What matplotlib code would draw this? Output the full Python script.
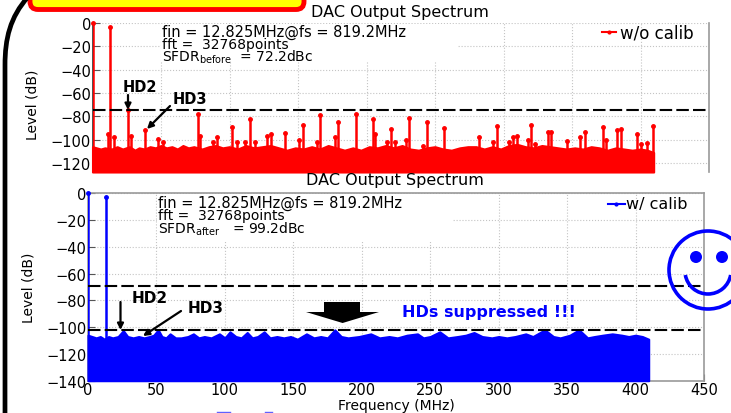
"""DAC output spectrum before and after calibration, with slide decorations."""

import matplotlib
matplotlib.use("Agg")
import matplotlib.pyplot as plt
from matplotlib.patches import Circle, FancyBboxPatch, PathPatch, Polygon, Arc
from matplotlib.path import Path

W, H = 731, 414

# fundamental and spurs (MHz, dB)
before_freq = [0.0, 12.8, 11, 16, 25.6, 28, 38.4, 48, 51.6, 76.9, 78.8, 88, 91, 102, 105.6,
               111, 114.9, 118.5, 127.5, 130, 140.6, 153.8, 151, 166.4, 164, 179.3, 177, 192.2,
               204.9, 206.5, 214.6, 217.8, 221, 230.7, 229, 243.8, 241, 256.7, 282.2, 295, 292,
               306.7, 309.5, 304, 320.4, 318, 323, 332.6, 335, 346.2, 359.4, 356, 372.3, 375,
               382.5, 385.6, 397.8, 400, 405, 409.3]
before_level = [0.0, -3, -95, -98, -74.5, -97, -92, -99, -102, -78, -97, -102, -98, -89, -102,
                -102, -82, -102, -97, -95, -94, -87, -100, -79, -102, -85, -98, -78,
                -82, -95, -102, -91, -102, -81, -100, -85, -105, -90, -98, -88, -102,
                -98, -97, -102, -87.5, -100, -104, -93, -93, -101, -93, -98, -89, -100,
                -92, -91, -95, -104, -103, -88]
before_floor_freq = [0, 3, 6, 9, 14, 18, 22, 27, 31, 34, 38, 42, 46, 50, 54, 58, 62, 66, 70, 74, 80,
                     85, 90, 95, 100, 106, 112, 118, 124, 130, 136, 142, 148, 154, 160, 166, 172,
                     178, 184, 190, 196, 202, 208, 214, 220, 226, 232, 238, 244, 250, 256, 262,
                     268, 274, 280, 286, 292, 298, 304, 310, 316, 322, 328, 334, 340, 346, 352,
                     358, 364, 370, 376, 382, 388, 394, 400, 405, 409.6]
before_floor = [-106, -107, -108, -107, -108, -106, -108, -106, -109, -107, -108, -106, -107,
                -105, -107, -106, -108, -105, -107, -106, -108, -106, -105, -107, -106, -108,
                -105, -107, -106, -105, -107, -109, -107, -108, -106, -108, -105, -107, -109,
                -107, -109, -106, -107, -105, -107, -105, -108, -109, -107, -106, -108, -109,
                -107, -106, -106, -108, -106, -108, -105, -104, -106, -107, -105, -106, -107,
                -108, -107, -108, -106, -107, -109, -107, -108, -109, -108, -109, -111]

after_freq = [0.0, 12.8]
after_level = [0.0, -3]
after_floor_freq = [0, 3, 6, 9, 12, 15, 18, 22, 25.8, 29, 33, 37, 41, 45, 48, 51.3, 54, 57, 60, 64,
                    68, 73, 77, 81, 85, 90, 96, 100, 103.7, 108, 112, 116.3, 120, 124, 128.7, 133,
                    138, 143, 148, 153, 159.6, 165, 170, 175, 180.3, 185, 190, 198, 206.6, 213,
                    220, 226, 233, 240.7, 245, 250, 257, 263, 270, 276, 282, 288, 295, 300, 306,
                    312, 319.8, 325, 333.7, 340, 345, 352, 358.7, 365, 370, 376, 383, 390, 395,
                    400, 405, 409.6]
after_floor = [-106, -107, -108, -107, -109, -107, -108, -107, -102.6, -107, -108, -107, -108,
               -107, -106, -102, -107, -108, -105, -108, -108, -107, -105, -108, -107, -108,
               -105, -108, -103.5, -107, -108, -104, -108, -107, -103.5, -108, -107, -108, -107,
               -109, -105, -108, -107, -108, -102, -107, -108, -107, -105, -108, -107, -108,
               -106, -105, -108, -107, -103.5, -108, -107, -106, -104, -107, -108, -107, -108,
               -107, -105, -107, -102, -107, -108, -106, -102, -108, -107, -106, -105, -106,
               -107, -106, -107, -109]

x_ticks = [0, 50, 100, 150, 200, 250, 300, 350, 400, 450]
before_y_ticks = [0, -20, -40, -60, -80, -100, -120]
after_y_ticks = [0, -20, -40, -60, -80, -100, -120, -140]

sfdr_before = -74.4
sfdr_after_lines = [-69, -102]

RED = "#ff0000"
BLUE = "#0000ff"
GREY = "#9a9a9a"


def add_axes_px(fig, left, top, right, bottom):
    """Axes placed by pixel box, y counted from the top of the image."""
    return fig.add_axes([left / W, 1 - bottom / H, (right - left) / W, (bottom - top) / H])


def draw_spectrum(ax, floor_f, floor_l, spur_f, spur_l, color, ymin, y_ticks):
    ax.fill_between(floor_f, floor_l, ymin, color=color, lw=1.5, zorder=3, clip_on=False)
    ax.vlines(spur_f, ymin, spur_l, color=color, lw=1.8, zorder=3)
    ax.plot(spur_f, spur_l, ".", color=color, ms=5, zorder=4, clip_on=False)
    ax.set_xlim(0, 450)
    ax.set_ylim(ymin, 0)
    ax.set_xticks(x_ticks)
    ax.set_yticks(y_ticks)
    ax.grid(True, color="#c4c4c4", ls=":", lw=0.8)
    ax.set_axisbelow(True)
    ax.tick_params(labelsize=10.5, length=5, width=0.8, color="#555555", direction="in", pad=1)
    for spine in ax.spines.values():
        spine.set_color(GREY)
        spine.set_linewidth(1.2)


fig = plt.figure(figsize=(W / 100, H / 100), dpi=100)

ax1 = add_axes_px(fig, 92.5, 24, 709, 173)
draw_spectrum(ax1, before_floor_freq, before_floor, before_freq, before_level, RED, -127.7, before_y_ticks)
ax1.set_xticklabels([])
ax1.tick_params(axis="x", length=0)
ax1.spines["top"].set_visible(False)
ax1.spines["bottom"].set_visible(False)
ax1.spines["left"].set_color("#333333")
ax1.axhline(sfdr_before, color="black", ls=(0, (6, 2)), lw=1.5, zorder=5)

ax2 = add_axes_px(fig, 88, 194.3, 704, 381.7)
draw_spectrum(ax2, after_floor_freq, after_floor, after_freq, after_level, BLUE, -140, after_y_ticks)
for level in sfdr_after_lines:
    ax2.axhline(level, color="black", ls=(0, (6, 2)), lw=1.5, zorder=5)

# pixel overlay for annotations and the slide artwork
ov = fig.add_axes([0, 0, 1, 1], facecolor="none")
ov.set_xlim(0, W)
ov.set_ylim(H, 0)
ov.axis("off")


def label(x, y, s, **kw):
    kw.setdefault("fontsize", 10)
    kw.setdefault("va", "center")
    return ov.text(x, y, s, **kw)


# white boxes behind the info text hide the grid
ov.add_patch(plt.Rectangle((161, 25), 297, 37, fc="white", ec="none", zorder=1))
ov.add_patch(plt.Rectangle((157, 195), 295, 48, fc="white", ec="none", zorder=1))

label(400, 12, "DAC Output Spectrum", ha="center", fontsize=11.5)
label(395, 181, "DAC Output Spectrum", ha="center", fontsize=11.5)
label(162, 32, "fin = 12.825MHz@fs = 819.2MHz", fontsize=10.5)
label(162, 45, "fft =  32768points", fontsize=10)
label(162, 57, r"SFDR$_{\mathrm{before}}$  = 72.2dBc", fontsize=10)
label(158, 203, "fin = 12.825MHz@fs = 819.2MHz", fontsize=10.5)
label(158, 216, "fft =  32768points", fontsize=10)
label(158, 229, r"SFDR$_{\mathrm{after}}$   = 99.2dBc", fontsize=10)

ov.plot([602, 616], [33, 33], "-", color=RED, lw=1.5, zorder=3)
ov.plot([609], [33], ".", color=RED, ms=4, zorder=3)
label(620, 33, "w/o calib", fontsize=12)
ov.plot([608, 625], [205, 205], "-", color=BLUE, lw=1.5, zorder=3)
ov.plot([616], [205], ".", color=BLUE, ms=4, zorder=3)
label(626, 205, "w/ calib", fontsize=11.5)

label(33, 105, "Level (dB)", rotation=90, ha="center")
label(29, 288, "Level (dB)", rotation=90, ha="center")
label(396, 406, "Frequency (MHz)", ha="center", fontsize=10)

label(123, 87, "HD2", fontweight="bold", fontsize=10.5)
label(173, 100, "HD3", fontweight="bold", fontsize=10.5)
label(132, 299, "HD2", fontweight="bold", fontsize=11)
label(188, 309, "HD3", fontweight="bold", fontsize=11)
label(402, 313, "HDs suppressed !!!", color=BLUE, fontweight="bold", fontsize=11.5)

for start, end in [((128, 96), (128, 111)), ((170, 107), (147, 130)),
                   ((120.5, 303), (120.5, 331)), ((181, 312), (143, 337))]:
    ov.annotate("", xy=end, xytext=start, zorder=6,
                arrowprops=dict(arrowstyle="-|>", color="black", lw=1.6, mutation_scale=9,
                                shrinkA=0, shrinkB=0))

# big "suppressed" arrow
ov.add_patch(Polygon([(324, 303), (360, 303), (360, 313), (379, 313), (342.6, 324), (306, 313), (324, 313)],
                     fc="black", ec="none", zorder=6))

# smiley, runs off the right edge
ov.add_patch(Circle((708, 271), 39, fc="none", ec=BLUE, lw=2.6, zorder=7))
ov.add_patch(Circle((696, 258), 6, fc=BLUE, ec="none", zorder=7))
ov.add_patch(Circle((722, 258), 6, fc=BLUE, ec="none", zorder=7))
ov.add_patch(Arc((708, 272), 46, 46, theta1=10, theta2=170, ec=BLUE, lw=2.6, zorder=7))

# slide artwork: title box, the black rounded frame, clipped shapes at the bottom edge
ov.add_patch(FancyBboxPatch((30, -30), 274, 40.5, boxstyle="round,pad=0,rounding_size=8",
                            fc="#ffff00", ec=RED, lw=3.5, zorder=8))
frame = Path([(28, -2), (10, 18), (5, 40), (5, 66), (5, 420)],
             [Path.MOVETO, Path.CURVE4, Path.CURVE4, Path.CURVE4, Path.LINETO])
ov.add_patch(PathPatch(frame, fc="none", ec="black", lw=3.4, zorder=8))
ov.plot([217, 230], [413.3, 413.3], color="#6060ff", lw=1, zorder=8)
ov.plot([265, 272], [413.3, 413.3], color="#6060ff", lw=1, zorder=8)

fig.savefig("out.png", dpi=100)
plt.close(fig)
